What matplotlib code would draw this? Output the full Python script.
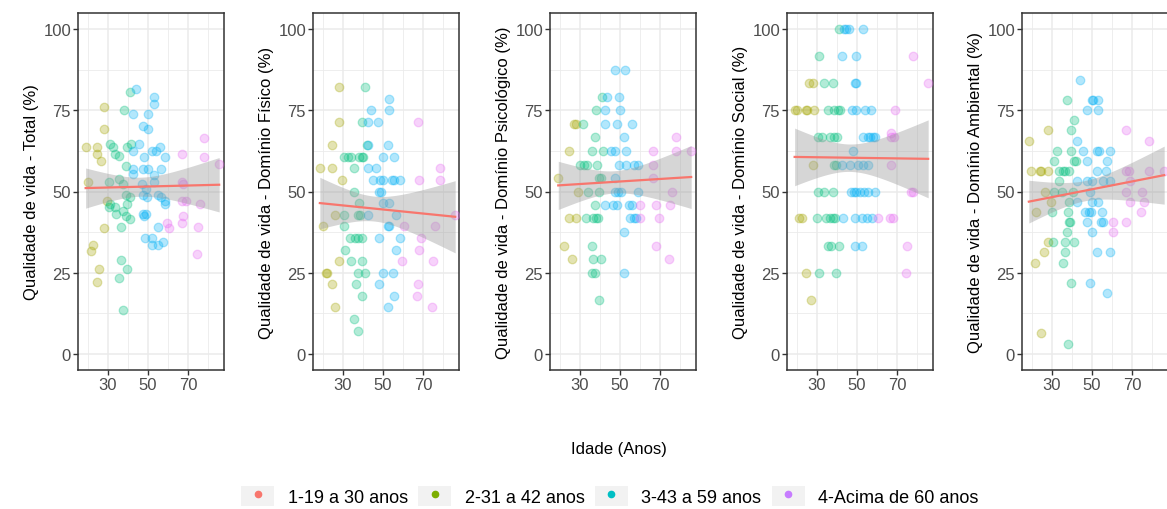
import numpy as np
import pandas as pd
import matplotlib
matplotlib.use('Agg')
from matplotlib import pyplot as plt
from matplotlib.patches import Rectangle
from matplotlib.lines import Line2D
from matplotlib.legend_handler import HandlerTuple

plt.rcParams['font.family'] = ['Liberation Sans', 'DejaVu Sans']

groups = ['1-19 a 30 anos', '2-31 a 42 anos', '3-43 a 59 anos', '4-Acima de 60 anos']
key_colors = ['#F8766D', '#7CAE00', '#00BFC4', '#C77CFF']
point_colors = ['#A3A500', '#00BF7D', '#00B0F6', '#E76BF3']
age_bins = [0, 30, 42, 59, 120]

# Qualidade de vida - Total
total_age = [
    19.0, 20.2, 24.7, 24.7, 26.8, 28.3, 28.3, 29.7, 28.3, 22.5, 21.7, 25.8, 24.7,
    31.2, 32.8, 33.5, 35.7, 30.5, 35.7, 37.3, 31.2, 30.5, 33.8, 34.2, 37.3, 38.8, 40.8,
    36.5, 38.8, 41.0, 39.3, 38.8, 39.3, 41.5, 38.0, 40.8, 36.5, 39.3, 35.7, 37.3,
    43.8, 42.5, 49.8, 47.5, 49.8, 52.8, 52.8, 45.3, 42.5, 52.0, 53.7, 55.8, 58.5,
    48.2, 42.5, 42.5, 47.5, 49.8, 56.5, 52.8, 52.8, 46.8, 49.0, 47.5, 49.7, 54.8,
    56.5, 58.5, 58.5, 47.5, 49.0, 48.2, 54.8, 48.5, 52.0, 52.0, 54.8, 57.2,
    77.8, 77.8, 66.8, 85.3, 66.8, 67.5, 66.8, 68.8, 75.7, 67.5, 59.5, 60.2, 66.8, 74.8, 74.2,
]
total_val = [
    63.6, 52.9, 63.6, 61.5, 59.5, 76.1, 69.3, 47.2, 38.6, 33.5, 31.7, 26.1, 22.1,
    64.6, 63.6, 61.5, 60.9, 52.9, 53.9, 52.3, 46.1, 45.2, 45.2, 43.1, 44.1, 42.4, 41.5,
    39.2, 48.9, 48.2, 46.1, 57.8, 63.6, 64.6, 75.0, 80.7, 28.8, 26.1, 23.2, 13.4,
    81.7, 73.9, 73.9, 70.3, 69.3, 79.0, 77.1, 64.6, 62.5, 62.5, 62.5, 63.6, 60.7,
    60.7, 56.9, 55.5, 56.9, 56.9, 56.9, 55.0, 52.9, 52.3, 50.9, 48.9, 48.2, 48.9,
    48.2, 47.0, 46.1, 43.1, 43.1, 42.4, 39.2, 35.8, 35.8, 33.5, 33.5, 34.5,
    66.4, 60.7, 61.5, 58.5, 52.9, 52.3, 47.2, 47.2, 46.1, 42.4, 40.2, 38.6, 40.2, 39.2, 30.7,
]

# Domínio Físico
fisico_age = [
    18.6, 24.6, 28.3, 28.3, 24.6, 29.7, 26.0, 20.3, 28.3, 21.8, 22.3, 24.6, 26.0,
    30.7, 32.7, 34.0, 38.1, 40.1, 39.4, 35.7, 35.7, 38.1, 30.7, 37.4, 38.7, 30.7, 33.4,
    36.0, 37.4, 39.4, 31.3, 34.0, 39.4, 37.4, 40.8, 36.4, 39.4, 35.7, 37.4, 40.8, 39.4, 41.8,
    42.4, 52.2, 52.9, 52.9, 43.8, 42.4, 47.5, 42.4, 46.5, 49.8, 55.5, 45.1, 48.5,
    50.2, 54.2, 55.5, 58.6, 47.8, 49.2, 49.8, 52.9, 42.4, 56.2, 52.5, 52.9, 48.2,
    58.6, 56.6, 49.8, 54.9, 48.2, 55.2, 52.2,
    60.3, 59.6, 67.3, 68.0, 78.1, 78.1, 85.8, 76.0, 69.0, 67.6, 74.7, 67.3, 67.0, 74.4,
]
fisico_val = [
    57.1, 57.1, 82.1, 71.4, 64.3, 53.6, 42.9, 39.3, 28.6, 25.0, 25.0, 21.4, 14.3,
    60.7, 60.7, 60.7, 60.7, 60.7, 60.7, 57.1, 50.0, 46.4, 42.9, 42.9, 42.9, 39.3, 35.7,
    35.7, 35.7, 35.7, 32.1, 28.6, 28.6, 25.0, 25.0, 21.4, 17.9, 10.7, 7.1, 82.1, 71.4, 64.3,
    64.3, 64.3, 78.6, 75.0, 75.0, 71.4, 71.4, 57.1, 57.1, 60.7, 60.7, 53.6, 53.6,
    53.6, 53.6, 53.6, 53.6, 50.0, 50.0, 46.4, 46.4, 42.9, 42.9, 39.3, 39.3, 35.7,
    35.7, 32.1, 25.0, 25.0, 21.4, 17.9, 14.3,
    39.3, 28.6, 71.4, 53.6, 57.1, 53.6, 42.9, 39.3, 35.7, 32.1, 28.6, 21.4, 17.9, 14.3,
]

# Domínio Psicológico
psico_age = [
    19.3, 24.7, 27.0, 28.3, 29.0, 24.7, 28.3, 22.3, 26.3,
    31.7, 30.3, 32.3, 33.7, 38.7, 36.0, 41.7, 37.3, 38.0, 41.0, 39.3, 40.3, 34.3,
    39.3, 37.3, 33.3, 36.7, 38.0, 39.0, 36.0, 36.7, 40.3, 36.0, 37.3, 39.7,
    43.7, 49.7, 42.3, 50.0, 42.3, 48.7, 55.7, 47.3, 52.3, 45.7, 47.3, 52.7, 52.0,
    49.7, 52.7, 56.7, 58.7, 47.7, 47.3, 49.0, 50.3, 58.7, 42.3, 46.3, 48.3, 54.3,
    56.0, 55.0, 56.7, 58.0, 52.0, 52.0,
    59.7, 59.7, 66.3, 66.3, 66.3, 67.7, 69.3, 67.7, 78.0, 78.0, 85.3, 75.7, 75.0, 74.3,
]
psico_val = [
    54.2, 62.5, 70.8, 70.8, 50.0, 41.7, 41.7, 33.3, 29.2,
    70.8, 58.3, 58.3, 58.3, 58.3, 62.5, 62.5, 66.7, 75.0, 79.2, 54.2, 54.2, 50.0,
    50.0, 45.8, 41.7, 41.7, 41.7, 41.7, 33.3, 29.2, 29.2, 25.0, 25.0, 16.7,
    79.2, 79.2, 75.0, 75.0, 70.8, 70.8, 70.8, 87.5, 87.5, 62.5, 62.5, 62.5, 66.7,
    58.3, 58.3, 58.3, 58.3, 54.2, 50.0, 50.0, 50.0, 50.0, 45.8, 45.8, 45.8, 45.8,
    45.8, 41.7, 41.7, 41.7, 37.5, 25.0,
    45.8, 41.7, 62.5, 58.3, 54.2, 45.8, 41.7, 33.3, 66.7, 62.5, 62.5, 50.0, 45.8, 29.2,
]

# Domínio Social
social_age = [
    19.0, 20.3, 24.7, 25.3, 28.7, 26.3, 28.0, 21.3, 22.7, 28.3, 24.7, 27.0,
    30.4, 33.7, 38.0, 30.3, 34.7, 36.7, 38.0, 39.0, 35.7, 37.0, 41.0, 31.3, 39.7,
    30.7, 32.7, 36.7, 38.7, 40.0, 35.7, 38.7, 40.7, 41.7, 33.7, 38.0, 31.3, 41.0, 38.7, 39.3,
    42.7, 46.7, 50.3, 53.0, 55.3, 47.8, 43.7, 44.7, 46.0, 53.0, 42.7, 49.7, 49.0,
    49.7, 47.7, 49.7, 53.7, 57.0, 52.7, 55.3, 56.3, 57.7, 59.0, 47.0, 48.3, 49.3,
    51.3, 53.3, 55.3, 58.7, 43.0, 49.0, 52.3, 55.0, 57.3, 49.0, 52.3,
    60.3, 66.3, 67.7, 67.0, 66.7, 67.0, 68.3, 69.0, 77.7, 85.3, 76.7, 77.7, 75.0, 74.3,
]
social_val = [
    75.0, 75.0, 75.0, 75.0, 75.0, 83.3, 83.3, 41.7, 41.7, 58.3, 25.0, 16.7,
    50.0, 50.0, 50.0, 41.7, 41.7, 41.7, 41.7, 41.7, 33.3, 33.3, 33.3, 25.0, 25.0,
    66.7, 66.7, 66.7, 66.7, 66.7, 75.0, 75.0, 75.0, 75.0, 83.3, 83.3, 91.7, 100.0, 58.3, 58.3,
    58.3, 58.3, 58.3, 58.3, 58.3, 62.5, 100.0, 100.0, 100.0, 100.0, 91.7, 91.7, 83.3,
    83.3, 75.0, 75.0, 75.0, 75.0, 66.7, 66.7, 66.7, 66.7, 66.7, 50.0, 50.0, 50.0,
    50.0, 50.0, 50.0, 50.0, 41.7, 41.7, 41.7, 41.7, 41.7, 33.3, 33.3,
    41.7, 41.7, 41.7, 58.3, 67.9, 66.7, 66.7, 75.0, 91.7, 83.3, 50.0, 50.0, 33.3, 25.0,
]

# Domínio Ambiental
ambiental_age = [
    18.6, 19.9, 23.9, 24.6, 28.3, 26.6, 22.3, 28.0, 28.0, 26.0, 21.6, 24.6, 29.7,
    30.3, 30.7, 31.3, 32.7, 33.4, 31.3, 35.0, 33.7, 35.7, 36.7, 38.4, 37.7, 39.4, 41.1,
    39.7, 41.2, 41.9, 40.4, 38.4, 38.1, 38.7, 39.0, 37.4, 36.4, 41.1, 36.4, 35.7, 39.4, 38.1,
    44.1, 49.8, 50.5, 52.9, 47.5, 52.9, 42.4, 45.5, 52.2, 53.2, 58.9, 47.5, 57.2,
    52.5, 56.9, 42.4, 47.5, 49.8, 55.5, 58.9, 48.8, 49.8, 52.9, 42.4, 46.5, 48.5,
    49.5, 54.9, 47.5, 54.5, 55.2, 49.8, 52.2, 58.9, 49.2, 57.2,
    60.3, 60.3, 67.0, 67.0, 78.1, 67.0, 68.3, 78.1, 85.8, 67.0, 68.7, 68.7, 75.0, 75.7, 74.4,
]
ambiental_val = [
    65.6, 56.3, 56.3, 56.3, 56.3, 50.0, 43.8, 68.8, 34.4, 31.3, 28.1, 6.3, 46.9,
    43.8, 34.4, 59.4, 62.5, 53.1, 50.0, 50.0, 56.3, 56.3, 56.3, 56.3, 78.1, 68.8, 71.9,
    62.5, 59.4, 59.4, 50.0, 46.9, 43.8, 40.6, 40.6, 37.5, 34.4, 34.4, 31.3, 28.1, 21.9, 3.1,
    84.4, 78.1, 78.1, 78.1, 75.0, 75.0, 65.6, 62.5, 62.5, 62.5, 62.5, 59.4, 59.4,
    56.3, 56.3, 53.1, 53.1, 53.1, 53.1, 53.1, 50.0, 46.9, 46.9, 46.9, 43.8, 43.8,
    43.8, 43.8, 40.6, 40.6, 40.6, 37.5, 31.3, 31.3, 21.9, 18.8,
    40.6, 37.5, 40.6, 68.8, 65.6, 56.3, 56.3, 56.3, 56.3, 50.0, 53.1, 46.9, 50.0, 46.9, 43.8,
]

panels = [
    (total_age, total_val, 'Qualidade de vida - Total (%)'),
    (fisico_age, fisico_val, 'Qualidade de vida - Domínio Físico (%)'),
    (psico_age, psico_val, 'Qualidade de vida - Domínio Psicológico (%)'),
    (social_age, social_val, 'Qualidade de vida - Domínio Social (%)'),
    (ambiental_age, ambiental_val, 'Qualidade de vida - Domínio Ambiental (%)'),
]

T95 = 1.98  # t quantile for ~100 df


def lm_band(x, y, xs):
    slope, icpt = np.polyfit(x, y, 1)
    n = len(x)
    resid = y - (icpt + slope * x)
    s = np.sqrt(np.sum(resid ** 2) / (n - 2))
    se = s * np.sqrt(1 / n + (xs - x.mean()) ** 2 / np.sum((x - x.mean()) ** 2))
    fit = icpt + slope * xs
    return fit, fit - T95 * se, fit + T95 * se


W, H = 1167, 510
fig = plt.figure(figsize=(W / 100, H / 100), dpi=100)

lefts = [78, 313, 550, 787, 1022]
pw, top, bottom = 146, 14, 371

for left, (age, val, label) in zip(lefts, panels):
    ax = fig.add_axes([left / W, 1 - bottom / H, pw / W, (bottom - top) / H])
    df = pd.DataFrame({'age': age, 'val': val})
    df['grp'] = pd.cut(df['age'], age_bins, labels=False)

    for g, color in enumerate(point_colors):
        sub = df[df['grp'] == g]
        ax.scatter(sub['age'], sub['val'], s=38, facecolor=color, alpha=0.3,
                   edgecolor=color, linewidth=0.9, zorder=3)

    x = df['age'].to_numpy()
    y = df['val'].to_numpy()
    xs = np.linspace(x.min(), x.max(), 80)
    fit, lo, hi = lm_band(x, y, xs)
    ax.fill_between(xs, lo, hi, color='#999999', alpha=0.4, linewidth=0, zorder=4)
    ax.plot(xs, fit, color='#F8766D', linewidth=1.6, zorder=5)

    ax.set_xlim(15.2, 87.7)
    ax.set_ylim(-5, 105)
    ax.set_xticks([30, 50, 70])
    ax.set_xticks([20, 40, 60, 80], minor=True)
    ax.set_yticks([0, 25, 50, 75, 100])
    ax.set_yticks([12.5, 37.5, 62.5, 87.5], minor=True)
    ax.grid(which='major', color='#EBEBEB', linewidth=1.1)
    ax.grid(which='minor', color='#EBEBEB', linewidth=0.6)
    ax.set_axisbelow(True)
    for sp in ax.spines.values():
        sp.set_color('#333333')
        sp.set_linewidth(1.1)
    ax.tick_params(which='major', length=3.5, width=1, color='#333333',
                   labelcolor='#4D4D4D', labelsize=12, pad=1.5)
    ax.tick_params(which='minor', length=0)
    ax.set_ylabel(label, fontsize=12, labelpad=3)

fig.text(619 / W, 1 - 450 / H, 'Idade (Anos)', ha='center', va='center', fontsize=12)

handles = [
    (Rectangle((0, 0), 1, 1, facecolor='#F2F2F2', edgecolor='none'),
     Line2D([], [], marker='o', linestyle='none', color=c, markersize=4.5))
    for c in key_colors
]
fig.legend(handles, groups, loc='center', bbox_to_anchor=(610 / W, 1 - 497 / H),
           ncol=4, frameon=False, fontsize=13,
           handler_map={tuple: HandlerTuple(ndivide=1)},
           handlelength=1.8, handleheight=1.4, handletextpad=0.75,
           columnspacing=0.6)

fig.savefig('out.png', dpi=100)
